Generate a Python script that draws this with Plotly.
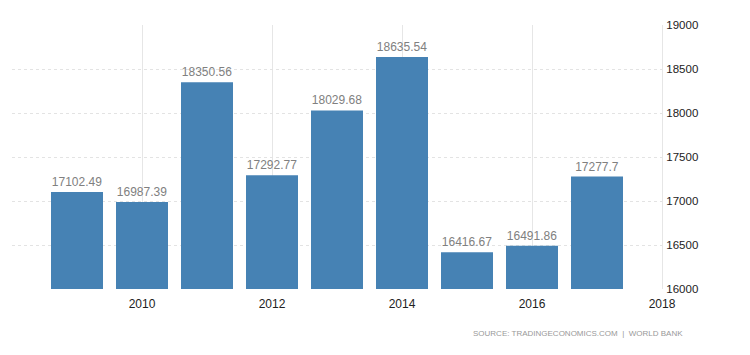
import plotly.graph_objects as go

years = [2009, 2010, 2011, 2012, 2013, 2014, 2015, 2016, 2017]
values = [17102.49, 16987.39, 18350.56, 17292.77, 18029.68, 18635.54, 16416.67, 16491.86, 17277.7]
labels = ["17102.49", "16987.39", "18350.56", "17292.77", "18029.68", "18635.54", "16416.67", "16491.86", "17277.7"]
x_ticks = [2010, 2012, 2014, 2016, 2018]
y_ticks = [16000, 16500, 17000, 17500, 18000, 18500, 19000]

fig = go.Figure()
fig.add_trace(go.Bar(
    x=years, y=values, width=0.8,
    marker=dict(color="#4682B4", line=dict(width=0)),
    text=labels, textposition="outside", cliponaxis=False,
    textfont=dict(color="#808080", size=12, family="Liberation Sans, Arial"),
))
fig.update_layout(
    width=742, height=347,
    margin=dict(l=4, r=88, t=17, b=66, autoexpand=False),
    paper_bgcolor="white", plot_bgcolor="white",
    showlegend=False,
    bargap=0.2,
    font=dict(family="Liberation Sans, Arial", size=11, color="#222"),
    xaxis=dict(
        range=[2008, 2018], tickvals=x_ticks, ticktext=[str(t) for t in x_ticks],
        showgrid=True, gridcolor="#e6e6e6", gridwidth=1,
        zeroline=False, showline=False, ticks="", automargin=False,
        tickfont=dict(size=12, color="#222"), ticklabelstandoff=6,
    ),
    yaxis=dict(
        range=[16000, 19000], side="right", tickvals=y_ticks,
        ticktext=[str(t) for t in y_ticks],
        showgrid=True, gridcolor="#e3e3e3", griddash="dot", gridwidth=1,
        zeroline=False, showline=True, linecolor="#e6e6e6", linewidth=1,
        ticks="", automargin=False, ticklabelstandoff=1,
        tickfont=dict(size=11.5, color="#222"),
    ),
    annotations=[dict(
        text="SOURCE: TRADINGECONOMICS.COM  |  WORLD BANK",
        xref="paper", yref="paper", x=1.035, y=-0.17, xanchor="right", yanchor="middle",
        showarrow=False, font=dict(size=8, color="#999"),
    )],
)
fig.write_html("out.html")
